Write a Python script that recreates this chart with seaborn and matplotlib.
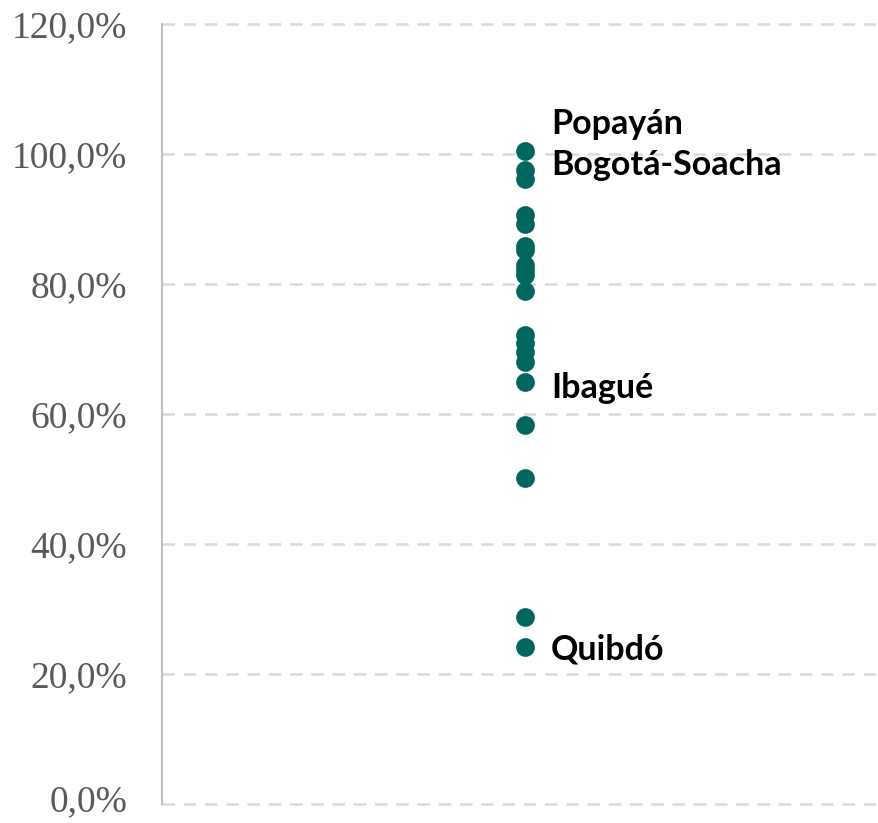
import numpy as np
import pandas as pd
import seaborn as sns
import matplotlib.pyplot as plt
import matplotlib.transforms as mtransforms
from matplotlib.ticker import FuncFormatter

# share values (percent)
values = [100.5, 97.5, 96.2, 90.6, 89.2, 85.8, 85.3, 82.9, 82.2, 81.4, 78.9,
          72.2, 70.9, 69.5, 68.0, 64.9, 58.3, 50.2, 28.8, 24.2]
labelled = ["Popayán", "Bogotá-Soacha", "Ibagué", "Quibdó"]
labelled_values = [100.5, 97.5, 64.9, 24.2]
label_dy = [19, 4, -4, -2]  # vertical nudge in points

y_ticks = [0, 20, 40, 60, 80, 100, 120]

df = pd.DataFrame({"grupo": ["a"] * len(values), "valor": values})

sns.set_style("white")
fig = plt.figure(figsize=(8.79, 8.23), dpi=100)
ax = fig.add_axes([0.1843, 0.0231, 0.8157, 0.9478])

sns.stripplot(data=df, x="grupo", y="valor", jitter=False, ax=ax,
              color="#00665f", size=13.5, linewidth=0, zorder=3)

ax.set_xlim(-0.506, 0.494)
ax.set_ylim(0, 120)
ax.set_yticks(y_ticks)
ax.yaxis.set_major_formatter(FuncFormatter(lambda v, p: f"{v:.1f}%".replace(".", ",")))
ax.set_xticks([])
ax.set_xlabel("")
ax.set_ylabel("")

for v in y_ticks:
    ax.axhline(v, color="#d9d9d9", lw=1.8, ls=(0, (5, 3.5)), zorder=1, clip_on=False)

for s in ["top", "right", "bottom"]:
    ax.spines[s].set_visible(False)
ax.spines["left"].set_color("#bfbfbf")
ax.spines["left"].set_linewidth(1.5)

ax.tick_params(axis="y", length=0, pad=25, labelsize=27, labelcolor="#595959")
ticklabels = ax.get_yticklabels()
for t in ticklabels:
    t.set_fontfamily("Liberation Serif")
# lift the 0,0% label a touch so it stays inside the figure
shift = mtransforms.ScaledTranslation(0, 4 / 72, fig.dpi_scale_trans)
ticklabels[0].set_transform(ticklabels[0].get_transform() + shift)

for name, v, dy in zip(labelled, labelled_values, label_dy):
    ax.annotate(name, xy=(0, v), xytext=(19, dy), textcoords="offset points",
                ha="left", va="center", fontsize=24.5, fontweight="bold",
                family="Lato", color="black")

plt.savefig("out.png", dpi=100)
plt.close()
